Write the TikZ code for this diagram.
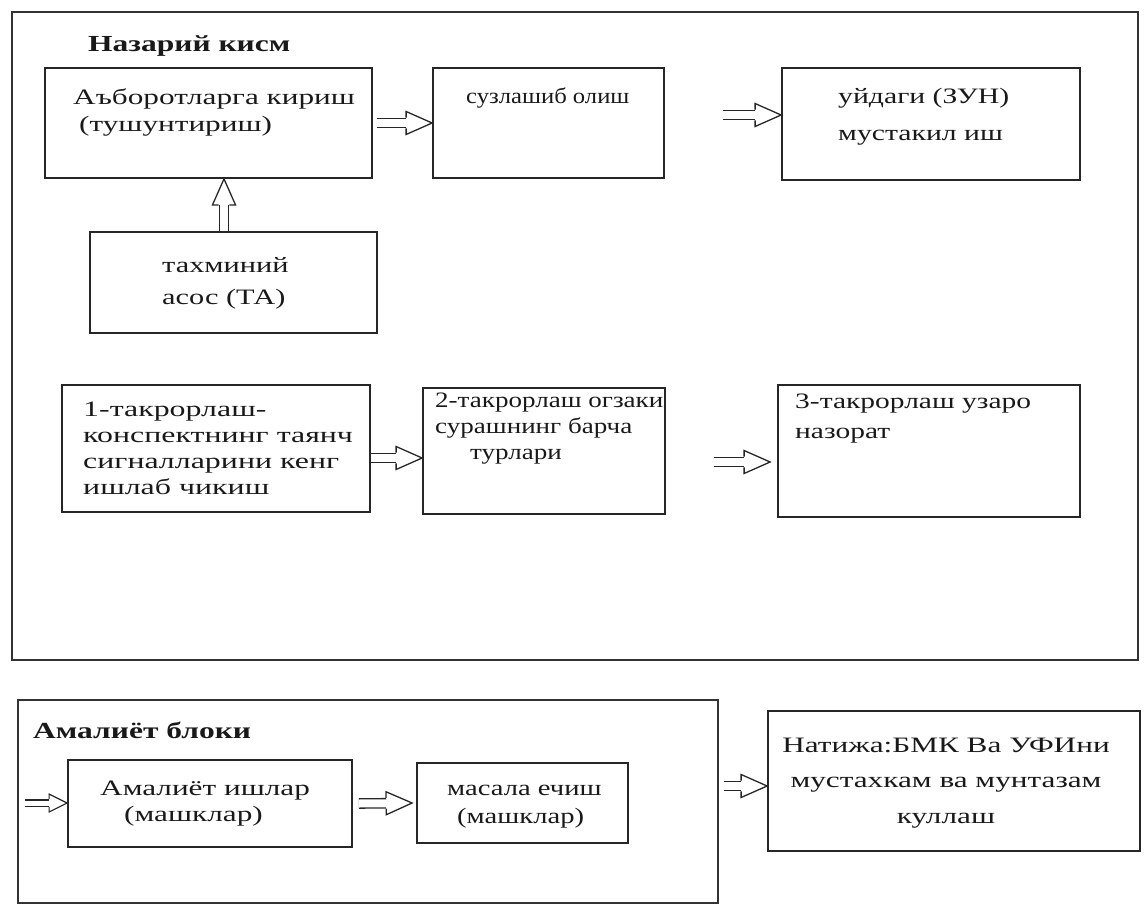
\documentclass[tikz,border=0pt]{standalone}
\usepackage{fontspec}
\setmainfont{Liberation Serif}
\usetikzlibrary{fit,decorations.markings}

\begin{document}
\begin{tikzpicture}[%
    x=1pt, y=-1pt,
    frame/.style={
      draw=black!80,
      line width=2.2pt,
      inner sep=0pt
    },
    block/.style={
      draw=black!85,
      line width=1.8pt,
      inner sep=0pt
    },
    txt/.style={
      anchor=base west,
      inner sep=0pt,
      align=left,
      text=black!90,
      font=\fontsize{22}{26}\selectfont\addfontfeatures{FakeStretch=#1}
    },
    txt/.default=1.4,
    head/.style={
      anchor=base west,
      inner sep=0pt,
      text=black!90,
      font=\fontsize{23}{27}\selectfont\bfseries\addfontfeatures{FakeStretch=1.37}
    },
    shaft/.style={
      draw=black!85,
      line width=1.3pt,
      double=white,
      postaction={decorate}
    },
    line/.style={
      shaft,
      double distance=8pt,
      shorten >=24pt,
      decoration={markings,
        mark=at position 1 with {
          \draw[black!85, line width=1.3pt, fill=white, shorten >=0pt, shorten <=0pt]
            (-26pt,5.3pt) -- (-26pt,11.5pt) -- (0pt,0pt) -- (-26pt,-11.5pt) -- (-26pt,-5.3pt);
        }
      }
    },
    small line/.style={
      shaft,
      double distance=5pt,
      shorten >=16pt,
      decoration={markings,
        mark=at position 1 with {
          \draw[black!85, line width=1.2pt, fill=white, shorten >=0pt, shorten <=0pt]
            (-18pt,3.8pt) -- (-18pt,9pt) -- (0pt,0pt) -- (-18pt,-9pt) -- (-18pt,-3.8pt);
        }
      }
    }
  ]
  \useasboundingbox (0,0) rectangle (1146,910);

  % theory part
  \node[frame, fit={(12,12) (1138,660)}] (theory) {};
  \node[head] (theorytitle) at (88,51) {Назарий кисм};

  \node[block, fit={(45,68) (372,178)}] (a) {};
  \node[block, fit={(433,68) (664,178)}] (b) {};
  \node[block, fit={(782,68) (1080,180)}] (c) {};
  \node[block, fit={(90,232) (377,333)}] (d) {};
  \node[txt=1.42] (ta) at (73,131) {Аъборотларга кириш\\[1pt]\hspace*{6pt}(тушунтириш)};
  \node[txt=1.12] (tb) at (466,103) {сузлашиб олиш};
  \node[txt=1.35] (tc) at (838,140) {уйдаги (ЗУН)\\[11pt]мустакил иш};
  \node[txt=1.38] (td) at (162,304) {тахминий\\[6pt]асос (ТА)};

  \node[block, fit={(62,385) (370,512)}] (e) {};
  \node[block, fit={(423,388) (665,514)}] (f) {};
  \node[block, fit={(778,385) (1080,517)}] (g) {};
  \node[txt=1.45] (te) at (83,494) {1-такрорлаш-\\конспектнинг таянч\\сигналларини кенг\\ишлаб чикиш};
  \node[txt=1.23] (tf) at (435,459) {2-такрорлаш огзаки\\сурашнинг барча\\\hspace*{35pt}турлари};
  \node[txt=1.34] (tg) at (795,438) {3-такрорлаш узаро\\[4pt]назорат};

  \draw[line] ([xshift=-9.5pt]d.north) -- ([xshift=-9.5pt]d.north |- a.south);
  \draw[line] ([xshift=4pt]a.east) -- (b.west);
  \draw[line] ([xshift=58pt,yshift=8pt]b.east) -- ([yshift=9pt]c.west);
  \draw[line] ([yshift=-9.5pt]e.east) -- ([yshift=-9.5pt]e.east -| f.west);
  \draw[line] ([xshift=48pt,yshift=-11pt]f.east) -- ([xshift=-7pt,yshift=-11pt]f.east -| g.west);

  % practice part
  \node[frame, fit={(18,700) (718,903)}] (practice) {};
  \node[head] (practicetitle) at (33,738) {Амалиёт блоки};

  \node[block, fit={(68,760) (352,847)}] (h) {};
  \node[block, fit={(417,763) (628,843)}] (i) {};
  \node[block, fit={(768,711) (1140,851)}] (j) {};
  \node[txt=1.42] (th) at (100,821) {Амалиёт ишлар\\\hspace*{24pt}(машклар)};
  \node[txt=1.3] (ti) at (447,823) {масала ечиш\\[2pt]\hspace*{10pt}(машклар)};
  \node[txt=1.42, anchor=base, align=center] (tj) at (946,823) {Натижа:БМК Ва УФИни\\[9.5pt]мустахкам ва мунтазам\\[9.5pt]куллаш};

  \coordinate (in) at (25,803);
  \draw[small line] (in) -- (in -| h.west);
  \draw[line] ([xshift=6pt]h.east) -- ([xshift=-4pt]i.west);
  \draw[line] ([xshift=5pt,yshift=15.5pt]practice.east) -- ([yshift=15.5pt]practice.east -| j.west);
\end{tikzpicture}
\end{document}
